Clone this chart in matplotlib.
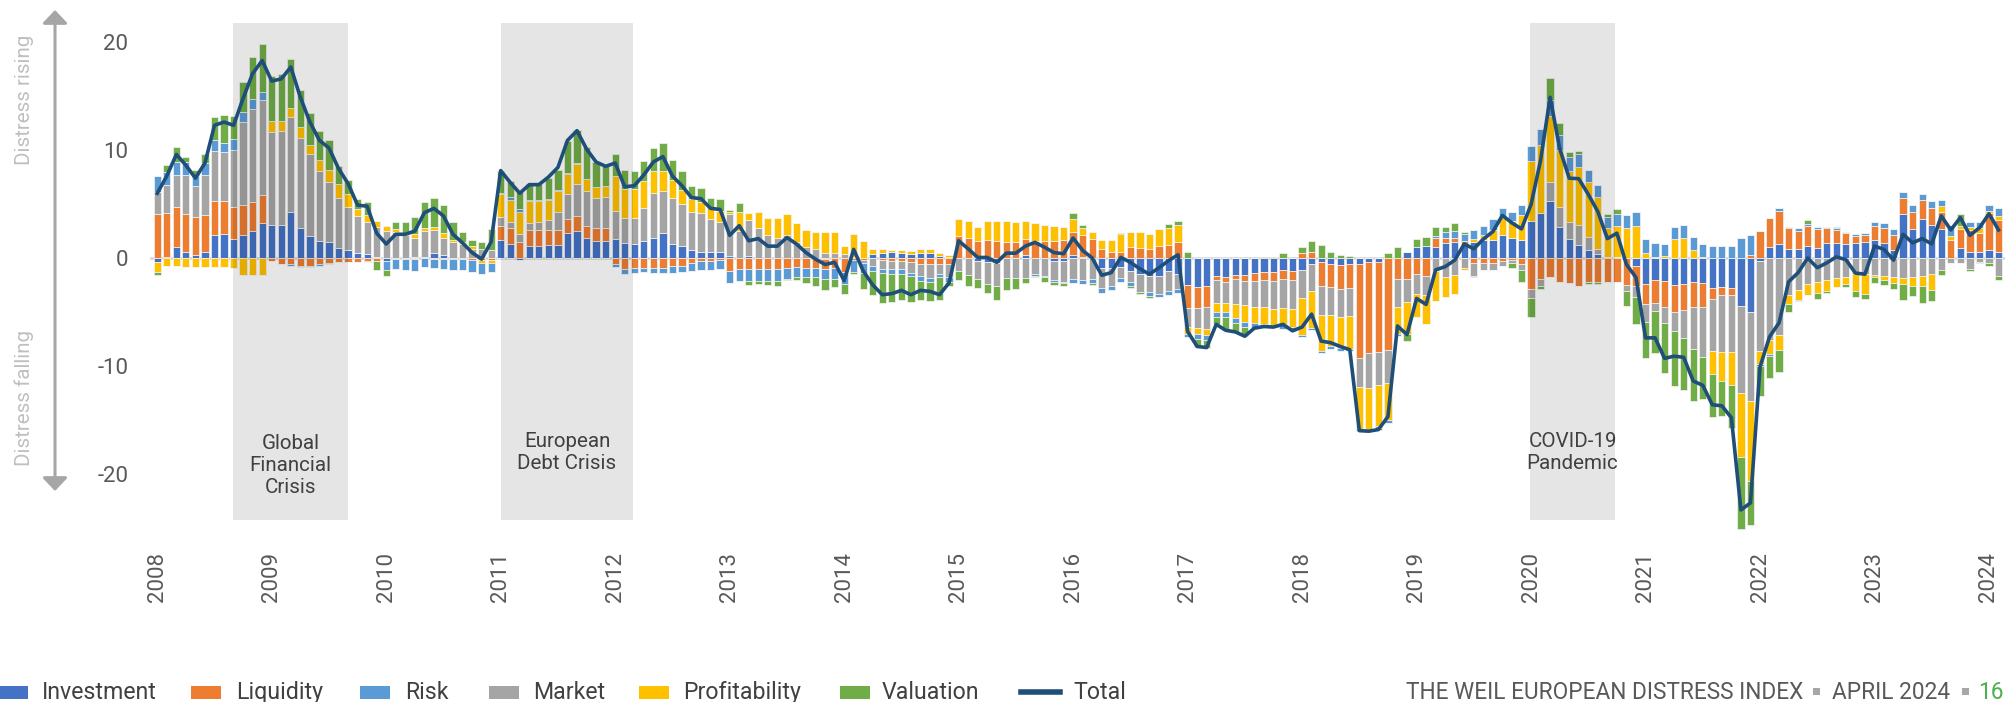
import numpy as np
import matplotlib
matplotlib.use("Agg")
import matplotlib.pyplot as plt
from matplotlib.patches import Rectangle, FancyArrowPatch
from matplotlib.lines import Line2D

plt.rcParams['font.family'] = ['Roboto', 'DejaVu Sans']

# ---------------- data (monthly, Jan 2008 - Feb 2024) ----------------
years = list(range(2008, 2025))

investment = [
    -0.4, 0.1, 1.0, 0.6, 0.3, 0.6, 2.1, 2.2, 1.8, 2.1, 2.5, 3.2,
    3.1, 3.1, 4.3, 2.8, 2.0, 1.6, 1.5, 0.9, 0.7, 0.5, 0.4, 0.1,
    -0.3, 0.0, 0.0, 0.1, 0.1, 0.5, 0.3, 0.0, 0.0, 0.0, 0.0, 0.0,
    1.7, 1.3, -0.2, 1.1, 1.1, 1.2, 1.2, 2.3, 2.5, 1.9, 1.6, 1.6,
    1.8, 1.4, 1.3, 1.6, 1.9, 2.3, 1.3, 1.1, 0.7, 0.6, 0.6, 0.6,
    0.15, 0.0, 0.15, 0.0, 0.0, 0.0, 0.0, 0.0, 0.0, 0.0, -0.1, 0.0,
    0.0, 0.1, 0.0, 0.35, 0.5, 0.6, 0.5, 0.4, 0.5, 0.5, 0.15, 0.1,
    0.0, 0.0, -0.25, -0.4, -0.5, 0.0, 0.0, 0.3, 0.0, 0.0, -0.25, -0.25,
    0.3, 0.1, 0.0, -0.95, -0.95, -0.85, -1.25, -1.5, -1.65, -1.65, -1.25, -1.5,
    -2.5, -2.65, -2.6, -1.65, -1.75, -1.55, -1.55, -1.4, -1.3, -1.3, -1.1, -1.2,
    -1.1, -0.55, -0.35, -0.55, -0.65, -0.6, -0.6, -0.4, -0.4, 0.0, 0.0, 0.55,
    1.05, 1.15, 1.05, 1.35, 1.5, 1.2, 1.45, 1.7, 1.7, 2.15, 1.85, 1.7,
    3.4, 4.15, 5.3, 2.85, 1.75, 1.2, 0.75, 0.35, 0.1, 0.1, 0.0, -0.75,
    -2.45, -2.0, -2.1, -2.5, -2.45, -2.25, -2.35, -2.8, -2.7, -2.8, -4.45, -5.0,
    -0.3, 1.0, 1.3, 0.85, 0.8, 1.15, 0.9, 1.4, 1.4, 1.3, 1.4, 1.5,
    1.65, 1.4, 0.75, 4.05, 2.65, 3.65, 3.05, 2.65, 0.0, 0.9, 0.55, 0.6,
    0.75, 0.6,
]
liquidity = [
    4.1, 4.1, 3.7, 3.5, 3.5, 3.4, 3.2, 3.1, 2.9, 2.8, 2.7, 2.6,
    -0.3, -0.6, -0.6, -0.7, -0.7, -0.6, -0.5, -0.4, -0.4, -0.4, -0.3, -0.3,
    0.0, -0.1, -0.1, -0.1, 0.0, -0.1, -0.1, -0.1, -0.1, -0.2, -0.2, -0.2,
    1.3, 1.5, 1.5, 1.5, 1.5, 1.4, 1.4, 1.3, 1.4, 1.1, 1.2, 1.2,
    -0.6, -1.0, -0.9, -0.9, -0.9, -0.9, -0.7, -0.7, -0.5, -0.3, -0.3, -0.2,
    -1.2, -1.0, -1.0, -1.0, -1.0, -1.0, -0.9, -0.8, -0.9, -0.9, -0.9, -0.9,
    -1.3, -0.2, -0.15, 0.0, -0.2, -0.25, -0.25, -0.35, -0.55, -0.6, -0.55, -0.55,
    2.0, 1.85, 1.6, 1.7, 1.6, 1.5, 1.45, 1.45, 1.6, 1.55, 1.55, 1.7,
    2.15, 2.0, 1.75, 0.8, 0.6, 0.6, 1.0, 0.95, 0.85, 1.15, 1.25, 1.5,
    -2.1, -1.95, -1.9, -0.4, -0.45, -0.4, -0.6, -0.7, -0.7, -0.85, -0.8, -0.8,
    0.5, 0.6, -2.2, -2.1, -2.25, -2.2, -8.65, -8.45, -8.3, -8.5, -1.95, -1.95,
    -1.5, -1.65, 0.8, 0.5, 0.4, 0.4, -0.45, -0.45, -0.45, -0.25, -0.2, -0.55,
    -2.85, -1.95, -1.8, -2.2, -2.35, -2.6, -2.2, -2.2, -2.2, -2.25, -2.5, -1.85,
    -1.85, -2.2, -2.4, -2.55, -2.4, -2.3, -2.2, -1.0, -0.75, -0.6, 0.0, 0.3,
    2.5, 2.75, 3.1, 1.9, 1.7, 1.8, 1.75, 1.35, 1.15, 1.05, 0.6, 0.6,
    1.3, 1.35, 1.4, 1.5, 1.6, 1.7, 1.6, 1.65, 1.65, 1.75, 2.0, 1.7,
    3.4, 2.9,
]
risk = [
    1.5, 1.2, 1.2, 1.2, 0.9, 1.1, 1.0, 0.9, 1.0, 0.9, 0.9, 0.8,
    0.0, 0.0, -0.1, -0.1, -0.1, -0.1, -0.1, 0.0, 0.0, 0.0, -0.1, 0.0,
    -0.8, -0.9, -1.0, -1.1, -0.8, -0.8, -0.9, -1.0, -1.0, -1.1, -1.0, -0.8,
    0.15, 0.3, 0.2, 0.1, 0.1, 0.1, 0.1, 0.1, 0.1, 0.0, 0.0, 0.0,
    -0.2, -0.5, -0.5, -0.4, -0.5, -0.5, -0.7, -0.6, -0.7, -0.8, -0.8, -0.8,
    -1.1, -1.1, -1.1, -1.1, -1.1, -1.1, -1.0, -1.0, -0.9, -0.9, -0.9, -1.0,
    -1.1, -1.1, -0.9, -0.5, -0.4, -0.4, -0.4, -0.3, -0.4, -0.35, -0.3, -0.4,
    0.0, 0.0, 0.0, 0.0, 0.0, 0.0, 0.0, 0.0, -0.15, -0.15, -0.15, -0.15,
    -0.4, -0.4, -0.4, -0.45, -0.45, -0.4, -0.4, 0.0, -0.35, -0.25, -0.3, -0.35,
    -0.35, -0.55, -0.5, -0.45, -0.45, -0.45, -0.45, -0.45, -0.25, -0.2, -0.45, -0.45,
    -0.2, -0.2, -0.25, -0.25, -0.3, -0.2, -0.2, -0.2, -0.2, -0.25, -0.25, 0.0,
    0.0, 0.0, 0.2, 0.55, 0.6, 0.6, 0.8, 0.85, 1.05, 0.9, 0.85, 1.0,
    1.4, 1.45, 1.45, 1.35, 1.25, 1.2, 1.15, 1.1, 1.0, 1.1, 1.2, 1.3,
    1.25, 1.3, 1.1, 1.15, 1.25, 1.2, 1.2, 1.15, 1.1, 1.1, 1.85, 1.85,
    -0.2, -0.15, 0.2, 0.1, 0.25, 0.2, 0.2, 0.1, 0.2, 0.1, 0.2, 0.2,
    0.4, 0.45, 0.5, 0.6, 0.7, 0.6, 0.6, 0.55, 1.0, 0.0, 0.45, 0.5,
    0.55, 0.7,
]
market = [
    2.0, 2.6, 3.0, 3.6, 2.9, 3.7, 4.6, 4.5, 5.3, 7.7, 8.6, 8.8,
    8.6, 8.7, 8.8, 8.3, 7.6, 6.5, 5.5, 4.7, 4.0, 3.4, 2.9, 2.8,
    2.5, 2.4, 2.1, 1.8, 2.4, 2.1, 1.6, 1.5, 1.3, 0.8, 0.8, 0.7,
    0.8, 0.5, 0.7, 0.6, 0.7, 0.9, 1.7, 2.3, 3.0, 3.2, 2.8, 2.9,
    2.6, 2.3, 2.4, 3.0, 4.1, 3.9, 4.3, 3.9, 3.6, 3.6, 3.0, 2.7,
    3.9, 2.5, 3.4, 2.8, 2.1, 1.9, 2.1, 1.5, 1.0, 0.8, 0.5, 0.5,
    0.4, 0.0, -0.3, -0.7, -0.8, -0.8, -0.8, -1.0, -1.15, -1.25, -0.9, -1.25,
    -1.25, -1.6, -1.7, -2.0, -2.1, -1.85, -1.85, -1.85, -1.5, -1.65, -1.8, -1.95,
    -1.95, -2.0, -1.95, -1.8, -1.6, -1.0, -0.95, -1.65, -1.5, -1.7, -1.85, -1.35,
    -1.8, -1.85, -2.05, -2.1, -2.0, -2.35, -2.25, -2.4, -2.55, -2.55, -2.7, -2.75,
    -2.65, -2.55, -2.75, -2.65, -2.55, -2.6, -2.7, -3.2, -3.1, -3.05, -2.55, -2.15,
    -1.85, -1.8, -1.2, -1.8, -1.55, -0.95, -1.2, -0.7, -0.7, -0.5, -0.3, -0.6,
    -0.9, -0.6, 1.75, 1.85, 1.55, 1.85, 1.2, 0.45, 0.0, 0.0, -0.55, -1.05,
    -1.65, -0.75, -1.55, -1.7, -2.55, -3.85, -4.6, -4.85, -5.3, -5.35, -8.05, -8.25,
    -8.3, -7.6, -7.1, -3.45, -3.0, -2.45, -2.2, -2.0, -1.85, -1.8, -1.45, -1.45,
    -1.55, -1.65, -1.8, -1.85, -1.8, -1.65, -1.45, -1.15, -0.45, -0.45, -1.05, -0.35,
    -0.45, -1.7,
]
profitability = [
    -0.9, -0.7, -0.7, -0.8, -0.8, -0.8, -0.8, -0.8, -0.9, -1.6, -1.6, -1.6,
    1.0, 0.9, 0.8, 1.0, 0.9, 1.0, 1.2, 1.3, 1.2, 0.6, 0.7, 0.5,
    0.5, 0.3, 0.0, 0.3, 0.3, 0.3, 0.4, 0.2, 0.2, 0.3, -0.3, -0.3,
    2.1, 2.1, 2.1, 2.1, 2.0, 1.9, 1.9, 1.9, 1.8, 1.1, 1.0, 1.0,
    3.2, 2.7, 2.7, 2.5, 2.1, 1.9, 1.6, 1.3, 1.2, 1.0, 1.1, 1.1,
    0.2, 1.8, 0.6, 1.5, 1.6, 1.8, 2.0, 1.7, 1.6, 1.6, 1.9, 1.9,
    0.7, 2.1, 1.6, 0.5, 0.3, 0.15, 0.25, 0.25, 0.35, 0.3, 0.3, 0.2,
    1.6, 1.6, 1.3, 1.7, 1.8, 1.9, 1.85, 1.7, 1.6, 1.55, 1.4, 1.2,
    1.2, 0.7, 0.7, 0.85, 1.05, 1.6, 1.4, 1.45, 1.4, 1.55, 1.5, 1.6,
    -0.6, -0.55, -0.55, -0.85, -0.85, -1.25, -1.5, -1.5, -1.55, -1.5, -1.55, -1.6,
    -3.4, -3.35, -3.3, -2.9, -2.85, -3.0, -3.9, -3.8, -3.75, -3.5, -2.5, -2.95,
    -2.15, -2.7, -2.8, -1.85, -1.8, -0.2, 0.35, 0.45, 0.9, 1.6, 1.55, 2.25,
    5.6, 6.35, 6.15, 5.35, 4.8, 5.35, 5.05, 4.9, 2.7, 2.9, 2.8, 3.0,
    0.5, 0.1, 0.2, 1.75, 1.85, 0.75, 0.1, -2.1, -2.65, -3.0, -5.95, -7.45,
    -1.2, -1.3, -1.45, -0.85, -0.9, -1.0, -1.0, -1.1, -0.8, -0.65, -1.65, -1.85,
    -0.25, -0.35, -0.5, -0.6, -0.75, -0.9, -1.55, 0.5, 0.4, 0.3, 0.3, 0.5,
    0.2, 0.4,
]
valuation = [
    -0.3, 0.6, 1.4, 0.5, 0.6, 0.8, 2.2, 2.6, 2.2, 2.8, 3.9, 4.4,
    4.2, 4.4, 4.5, 3.5, 2.9, 2.7, 2.7, 1.6, 1.3, 1.0, 1.2, -0.8,
    -0.6, 0.6, 1.2, 1.6, 2.4, 2.7, 2.6, 1.6, 0.9, 0.6, 0.7, 2.0,
    2.0, 1.4, 1.6, 1.5, 1.5, 1.9, 1.9, 2.9, 3.1, 3.0, 2.3, 1.8,
    2.0, 1.8, 1.7, 1.9, 2.1, 2.6, 1.9, 1.8, 1.2, 1.3, 0.9, 1.1,
    0.2, 0.8, -0.4, -0.3, -0.4, -0.5, -0.15, -0.2, -0.5, -0.8, -1.1, -0.8,
    -0.9, -0.15, -1.5, -2.2, -2.8, -2.6, -2.4, -2.4, -1.8, -1.8, -2.1, -0.35,
    -0.8, -0.95, -0.85, -0.85, -1.25, -1.1, -1.0, -0.45, -0.15, -0.4, -0.3, -0.25,
    0.55, 0.3, -0.15, 0.0, 0.0, 0.15, -0.15, -0.2, -0.25, 0.0, 0.4, 0.35,
    0.6, -0.7, -0.7, -0.7, -1.15, -0.85, -0.85, -0.1, 0.1, 0.1, 0.5, 0.0,
    0.5, 0.95, 1.2, 0.6, 0.3, 0.2, 0.0, 0.0, -0.15, 0.5, 1.0, -0.6,
    0.7, 0.8, 0.8, 0.45, 0.7, 0.2, -0.15, 0.0, 0.0, 0.0, -0.45, -1.1,
    -1.7, -0.3, 2.0, 1.1, 0.45, 0.3, -0.2, -0.2, 0.25, 0.4, -1.4, -2.5,
    -3.35, -3.9, -4.65, -5.1, -4.85, -4.85, -3.95, -3.95, -3.2, -4.0, -6.65, -4.0,
    -2.75, -2.1, -2.05, -0.75, -0.1, 0.35, -0.6, -0.15, 0.1, -0.2, -0.55, -0.5,
    -0.5, -0.5, -0.6, -1.45, -1.0, -1.6, -1.0, -0.45, 0.0, 1.15, -0.2, -0.15,
    -0.3, -0.3,
]
total = [
    6.0, 7.6, 9.6, 8.6, 7.4, 8.8, 12.3, 12.6, 12.3, 14.8, 17.1, 18.3,
    16.4, 16.6, 17.7, 14.9, 12.6, 10.9, 10.2, 8.3, 6.9, 4.9, 4.8, 2.3,
    1.3, 2.2, 2.2, 2.5, 4.2, 4.6, 3.9, 2.2, 1.4, 0.5, -0.1, 1.5,
    8.1, 7.0, 6.0, 6.8, 6.8, 7.5, 8.4, 10.9, 11.8, 10.1, 8.9, 8.5,
    8.8, 6.6, 6.7, 7.7, 8.9, 9.4, 7.6, 6.7, 5.6, 5.5, 4.6, 4.5,
    2.1, 3.0, 1.6, 1.8, 1.1, 1.1, 1.9, 1.3, 0.5, -0.1, -0.6, -0.4,
    -2.1, 0.8, -1.2, -2.5, -3.4, -3.3, -3.0, -3.4, -3.0, -3.1, -3.4, -2.3,
    1.6, 0.85, 0.05, 0.05, -0.4, 0.45, 0.45, 1.1, 1.45, 1.0, 0.5, 0.4,
    1.85, 0.7, 0.0, -1.6, -1.35, 0.05, -0.4, -1.0, -1.5, -0.9, -0.25, 0.3,
    -6.8, -8.2, -8.3, -6.15, -6.7, -6.85, -7.25, -6.5, -6.35, -6.4, -6.15, -6.75,
    -6.4, -5.2, -7.7, -7.85, -8.2, -8.5, -16.0, -16.05, -15.9, -14.7, -6.3, -7.1,
    -3.75, -4.3, -1.1, -0.8, -0.2, 1.3, 0.85, 1.75, 2.45, 3.95, 3.25, 2.7,
    4.95, 9.05, 14.9, 10.15, 7.4, 7.35, 5.9, 4.3, 1.8, 2.3, -0.6, -1.8,
    -7.4, -7.4, -9.3, -9.1, -9.2, -11.4, -11.8, -13.6, -13.7, -14.8, -23.35, -22.7,
    -10.1, -7.3, -6.0, -2.2, -1.35, 0.0, -0.9, -0.45, 0.1, -0.15, -1.4, -1.5,
    1.1, 0.8, -0.2, 2.2, 1.4, 1.8, 1.3, 3.9, 2.6, 3.75, 2.1, 2.8,
    4.1, 2.6,
]

series = [  # drawn in stacking order
    ("Investment", investment, "#4472C4"),
    ("Liquidity", liquidity, "#ED7D31"),
    ("Market", market, "#A5A5A5"),
    ("Profitability", profitability, "#FFC000"),
    ("Risk", risk, "#5B9BD5"),
    ("Valuation", valuation, "#70AD47"),
]
colors = {name: c for name, _, c in series}

periods = [  # (label, start, end) in month-index units
    ("Global\nFinancial\nCrisis", 7.9, 20.0),
    ("European\nDebt Crisis", 36.0, 49.9),
    ("COVID-19\nPandemic", 143.9, 152.8),
]

# ---------------- figure ----------------
W, H = 2014, 702
fig = plt.figure(figsize=(W / 100, H / 100), dpi=100)


def fx(x):
    return x / W


def fy(y):
    return 1 - y / H


ax_l, ax_r, ax_t, ax_b = 150, 2005, 20, 545
ax = fig.add_axes([fx(ax_l), fy(ax_b), (ax_r - ax_l) / W, (ax_b - ax_t) / H])
ax.set_xlim(-0.76, 193.68)
ax.set_ylim(-26.6, 22.06)

n = len(total)
x = np.arange(n)
pos_base = np.zeros(n)
neg_base = np.zeros(n)
for name, vals, col in series:
    v = np.array(vals, dtype=float)
    p = np.clip(v, 0, None)
    q = np.clip(v, None, 0)
    ax.bar(x, p, bottom=pos_base, width=0.76, color=col, edgecolor="#F4F4F4",
           linewidth=0.5, zorder=2)
    ax.bar(x, q, bottom=neg_base, width=0.76, color=col, edgecolor="#F4F4F4",
           linewidth=0.5, zorder=2)
    pos_base += p
    neg_base += q

ax.axhline(0, color="#DADADA", lw=2.0, zorder=1.5)

for label, s, e in periods:
    ax.add_patch(Rectangle((s, -24.3), e - s, 21.8 + 24.3, facecolor="black",
                           alpha=0.1, lw=0, zorder=3))
    ny = label.count("\n")
    yc = -19.2 if ny == 2 else -18.0
    ax.text((s + e) / 2, yc, label, ha="center", va="center", fontsize=14.8,
            color="#404040", linespacing=1.2, zorder=5)

ax.plot(x, total, color="#1F4E79", lw=2.6, zorder=4, solid_joinstyle="round")

for sp in ax.spines.values():
    sp.set_visible(False)
ax.set_yticks([-20, -10, 0, 10, 20])
ax.set_yticklabels(["-20", "-10", "0", "10", "20"])
ax.tick_params(axis="y", length=0, pad=15.5, labelsize=16, labelcolor="#595959")
ax.set_xticks([12 * i for i in range(len(years))])
ax.set_xticklabels([str(yv) for yv in years], rotation=90, va="top")
ax.tick_params(axis="x", length=0, pad=5, labelsize=16, labelcolor="#595959")

# side arrow & labels
arrow = FancyArrowPatch((fx(55), fy(10)), (fx(55), fy(491)), transform=fig.transFigure,
                        arrowstyle="<|-|>,head_length=0.4,head_width=0.38",
                        mutation_scale=20, color="#A6A6A6", lw=2.2,
                        shrinkA=0, shrinkB=0)
fig.add_artist(arrow)
fig.text(fx(24), fy(100), "Distress rising", rotation=90, ha="center", va="center",
         fontsize=14.8, color="#BFBFBF")
fig.text(fx(24), fy(398), "Distress falling", rotation=90, ha="center", va="center",
         fontsize=14.8, color="#BFBFBF")

# legend (manual)
leg_y_base = 699
leg_items = [("Investment", 0, 42), ("Liquidity", 193, 236), ("Risk", 362, 405),
             ("Market", 491, 533), ("Profitability", 641, 683), ("Valuation", 842, 882)]
for name, sx, tx in leg_items:
    fig.add_artist(Rectangle((fx(sx - 2), fy(699)), 30 / W, 13 / H,
                             transform=fig.transFigure, facecolor=colors[name], lw=0))
    fig.text(fx(tx), fy(leg_y_base), name, ha="left", va="baseline",
             fontsize=16.7, color="#404040")
fig.add_artist(Line2D([fx(1021), fx(1060)], [fy(692), fy(692)],
                      transform=fig.transFigure, color="#1F4E79", lw=4))
fig.text(fx(1073), fy(leg_y_base), "Total", ha="left", va="baseline",
         fontsize=16.7, color="#404040")

# footer: size the main text to the reference span (1406 -> 1801 px)
renderer = fig.canvas.get_renderer()
foot = fig.text(fx(1406), fy(leg_y_base), "THE WEIL EUROPEAN DISTRESS INDEX", ha="left",
                va="baseline", fontsize=16.7, color="#595959")
wpx = foot.get_window_extent(renderer).width
fsize = 16.7 * 395.0 / wpx
foot.set_fontsize(fsize)
for sqx in (1813, 1962):
    fig.add_artist(Rectangle((fx(sqx), fy(695)), 7 / W, 7 / H,
                             transform=fig.transFigure, facecolor="#A6A6A6", lw=0))
apr = fig.text(fx(1950), fy(leg_y_base), "APRIL 2024", ha="right", va="baseline",
               fontsize=fsize, color="#595959")
fig.text(fx(2004), fy(leg_y_base), "16", ha="right", va="baseline",
         fontsize=fsize, color="#4CAF50")

fig.savefig("out.png", dpi=100)
